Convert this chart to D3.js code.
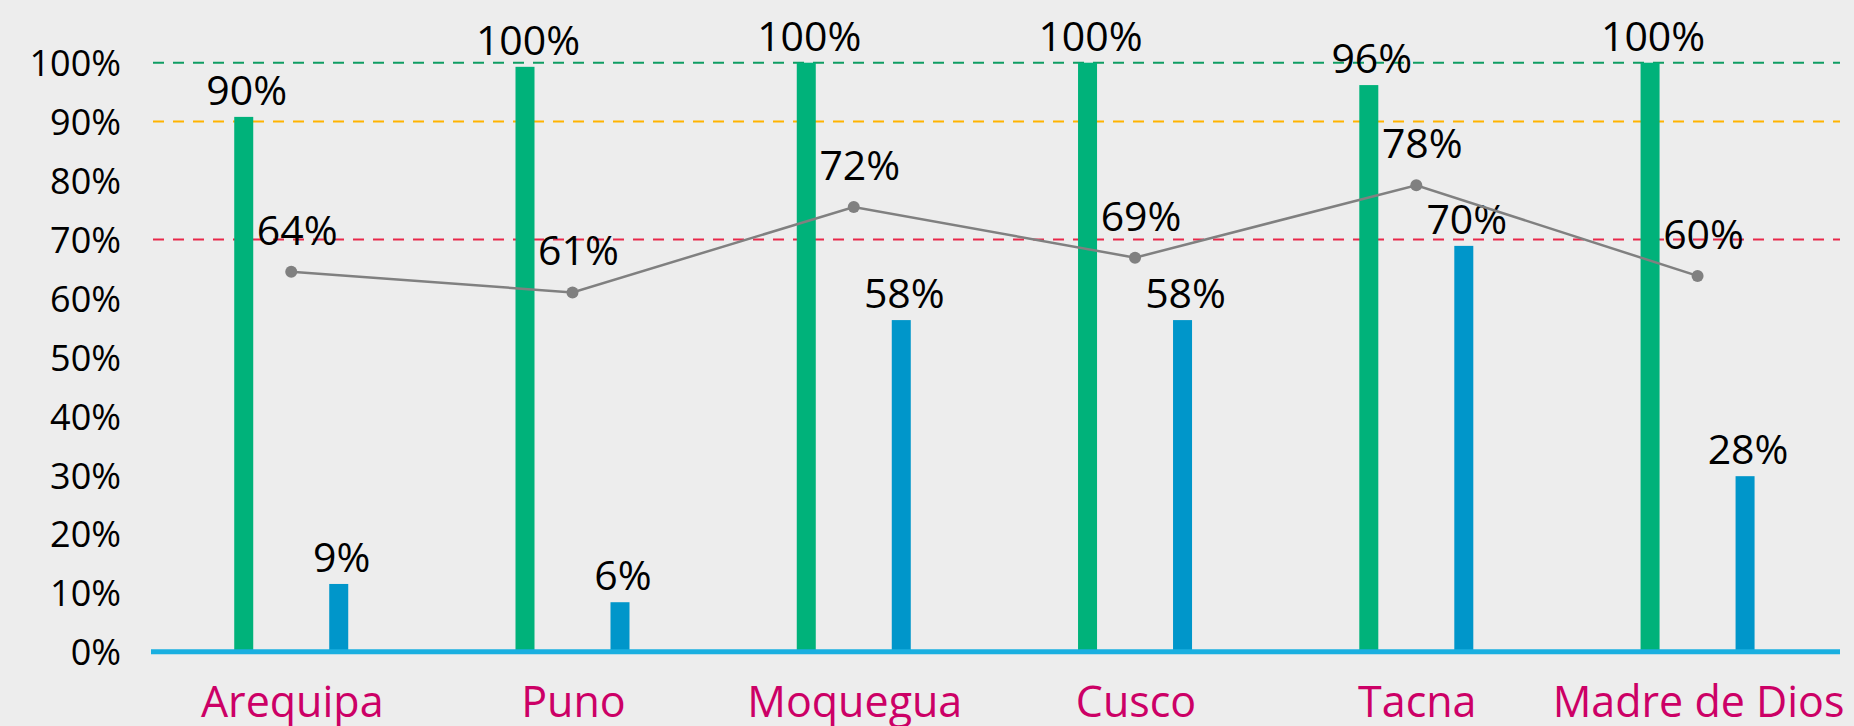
<!DOCTYPE html>
<html>
<head>
<meta charset="utf-8">
<script src="https://cdn.jsdelivr.net/npm/d3@7"></script>
<style>
  html, body { margin: 0; padding: 0; background: #ededed; }
  svg { display: block; }
</style>
</head>
<body>
<div id="chart"></div>
<script>
// categories + series (bar heights, labels as printed)
const CATEGORIES = ['Arequipa', 'Puno', 'Moquegua', 'Cusco', 'Tacna', 'Madre de Dios'];
const GREEN_VALUES = [90.8, 99.3, 100, 100, 96.2, 100];
const GREEN_LABELS = ['90%', '100%', '100%', '100%', '96%', '100%'];
const BLUE_VALUES = [11.5, 8.4, 56.3, 56.3, 68.9, 29.8];
const BLUE_LABELS = ['9%', '6%', '58%', '58%', '70%', '28%'];
const LINE_VALUES = [64.5, 61.0, 75.5, 66.9, 79.2, 63.8];
const LINE_LABELS = ['64%', '61%', '72%', '69%', '78%', '60%'];
const Y_TICKS = [0, 10, 20, 30, 40, 50, 60, 70, 80, 90, 100];
const REF_LINES = [100, 90, 70];
const REF_COLORS = ['#0f9d63', '#ffb300', '#e8294a'];

const W = 1854, H = 726;
const FONT = '"Open Sans", "Noto Sans", sans-serif';

const svg = d3.select('#chart').append('svg')
  .attr('width', W).attr('height', H)
  .style('background', '#ededed');

const x = d3.scaleBand().domain(CATEGORIES).range([150.6, 1838.2]).padding(0);
const y = d3.scaleLinear().domain([0, 100]).range([651.7, 62.7]);
// two bars per category, 95px either side of centre
const sub = d3.scaleBand().domain(['green', 'blue'])
  .range([x.bandwidth() / 2 - 95, x.bandwidth() / 2 + 95])
  .paddingInner(0.8).paddingOuter(0.4);
const cx = c => x(c) + x.bandwidth() / 2;

// y tick labels (no axis line)
svg.append('g').selectAll('text').data(Y_TICKS).join('text')
  .attr('x', 121).attr('y', d => y(d))
  .attr('text-anchor', 'end').attr('dominant-baseline', 'central')
  .style('font-family', FONT).style('font-size', '36px').attr('fill', '#000')
  .text(d => d + '%');

// reference dashed lines
svg.append('g').selectAll('line').data(REF_LINES).join('line')
  .attr('x1', 153).attr('x2', 1840)
  .attr('y1', d => y(d)).attr('y2', d => y(d))
  .attr('stroke', (d, i) => REF_COLORS[i]).attr('stroke-width', 2)
  .attr('stroke-dasharray', '11,9');

// bars
const series = [
  { key: 'green', values: GREEN_VALUES, labels: GREEN_LABELS, color: '#00b27a' },
  { key: 'blue', values: BLUE_VALUES, labels: BLUE_LABELS, color: '#0096ca' },
];
series.forEach(s => {
  const g = svg.append('g');
  g.selectAll('rect').data(CATEGORIES).join('rect')
    .attr('x', c => x(c) + sub(s.key))
    .attr('width', sub.bandwidth())
    .attr('y', (c, i) => y(s.values[i]))
    .attr('height', (c, i) => y(0) - y(s.values[i]))
    .attr('fill', s.color);
  g.selectAll('text').data(CATEGORIES).join('text')
    .attr('x', c => x(c) + sub(s.key) + sub.bandwidth() / 2 + 3)
    .attr('y', (c, i) => y(s.values[i]) - 12)
    .attr('text-anchor', 'middle')
    .style('font-family', FONT).style('font-size', '41px').attr('fill', '#000')
    .text((c, i) => s.labels[i]);
});

// line series
const lineData = CATEGORIES.map((c, i) => ({ c, v: LINE_VALUES[i], label: LINE_LABELS[i] }));
svg.append('path').datum(lineData)
  .attr('d', d3.line().x(d => cx(d.c)).y(d => y(d.v)))
  .attr('fill', 'none').attr('stroke', '#808080').attr('stroke-width', 2.5);
svg.append('g').selectAll('circle').data(lineData).join('circle')
  .attr('cx', d => cx(d.c)).attr('cy', d => y(d.v)).attr('r', 6)
  .attr('fill', '#808080');
svg.append('g').selectAll('text').data(lineData).join('text')
  .attr('x', d => cx(d.c) + 6).attr('y', d => y(d.v) - 27)
  .attr('text-anchor', 'middle')
  .style('font-family', FONT).style('font-size', '41px').attr('fill', '#000')
  .text(d => d.label);

// x axis line + category labels
svg.append('line')
  .attr('x1', 151).attr('x2', 1840).attr('y1', y(0)).attr('y2', y(0))
  .attr('stroke', '#1aafe0').attr('stroke-width', 5);
svg.append('g').selectAll('text').data(CATEGORIES).join('text')
  .attr('x', c => cx(c) + 1).attr('y', 717)
  .attr('text-anchor', 'middle')
  .style('font-family', FONT).style('font-size', '43px').attr('fill', '#cc0066')
  .text(c => c);
</script>
</body>
</html>
